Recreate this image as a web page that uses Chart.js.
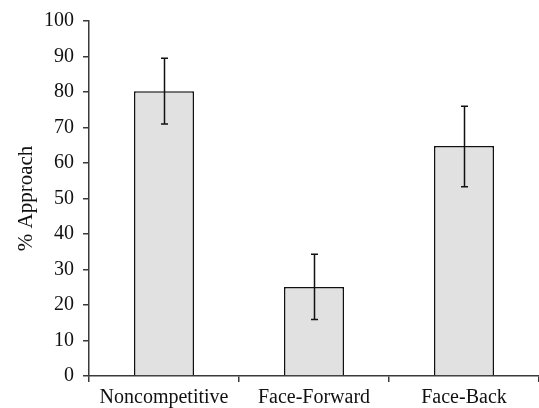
<!DOCTYPE html>
<html>
<head>
<meta charset="utf-8">
<script src="https://cdn.jsdelivr.net/npm/chart.js@4"></script>
<style>
  html, body { margin: 0; padding: 0; background: #fff; }
  #wrap { width: 539px; height: 408px; }
</style>
</head>
<body>
<div id="wrap"><canvas id="chart"></canvas></div>
<script>
const categories = ["Noncompetitive", "Face-Forward", "Face-Back"];
const approachPct = [80.2, 25.1, 64.8];
const errLow = [71.0, 15.9, 53.3];
const errHigh = [89.5, 34.3, 76.0];
const yTicks = [0, 10, 20, 30, 40, 50, 60, 70, 80, 90, 100];

const serif = "'Liberation Serif', 'DejaVu Serif', serif";
const axisColor = "#3a3a3a";

// Draw error bars from the low/high arrays through the y scale
const errorBars = {
    id: "errorBars",
    afterDatasetsDraw(chart) {
        const ctx = chart.ctx;
        const y = chart.scales.y;
        const meta = chart.getDatasetMeta(0);
        ctx.save();
        ctx.strokeStyle = "#111";
        ctx.lineWidth = 1.5;
        meta.data.forEach((bar, i) => {
            const x = Math.round(bar.x) + 0.5;
            const yLo = y.getPixelForValue(errLow[i]);
            const yHi = y.getPixelForValue(errHigh[i]);
            ctx.beginPath();
            ctx.moveTo(x, yLo);
            ctx.lineTo(x, yHi);
            ctx.moveTo(x - 3.5, yLo);
            ctx.lineTo(x + 3.5, yLo);
            ctx.moveTo(x - 3.5, yHi);
            ctx.lineTo(x + 3.5, yHi);
            ctx.stroke();
        });
        ctx.restore();
    },
};

new Chart(document.getElementById("chart"), {
    type: "bar",
    data: {
        labels: categories,
        datasets: [
            {
                label: "% Approach",
                data: approachPct,
                backgroundColor: "#e1e1e1",
                borderColor: "#111",
                borderWidth: 1.5,
                categoryPercentage: 1,
                barPercentage: 0.4,
            },
        ],
    },
    options: {
        responsive: true,
        maintainAspectRatio: false,
        animation: false,
        layout: { padding: { top: 19, right: 0, left: 0, bottom: 0 } },
        plugins: {
            legend: { display: false },
            tooltip: { enabled: false },
        },
        scales: {
            x: {
                offset: true,
                grid: {
                    offset: true,
                    drawOnChartArea: false,
                    drawTicks: true,
                    tickLength: 6,
                    color: axisColor,
                    lineWidth: 1.5,
                },
                border: { display: true, color: axisColor, width: 1.5 },
                ticks: {
                    color: "#111",
                    font: { family: serif, size: 20 },
                    padding: 4,
                    maxRotation: 0,
                },
                afterFit: (s) => { s.height = 32; },
            },
            y: {
                min: 0,
                max: 100,
                afterBuildTicks: (s) => { s.ticks = yTicks.map((v) => ({ value: v })); },
                grid: {
                    drawOnChartArea: false,
                    drawTicks: true,
                    tickLength: 6,
                    color: axisColor,
                    lineWidth: 1.5,
                },
                border: { display: true, color: axisColor, width: 1.5 },
                ticks: {
                    color: "#111",
                    font: { family: serif, size: 20 },
                    padding: 9,
                },
                title: {
                    display: true,
                    text: "% Approach",
                    color: "#111",
                    font: { family: serif, size: 21 },
                    padding: { top: 14, bottom: 0 },
                },
                afterFit: (s) => { s.width = 89; },
            },
        },
    },
    plugins: [errorBars],
});
</script>
</body>
</html>
